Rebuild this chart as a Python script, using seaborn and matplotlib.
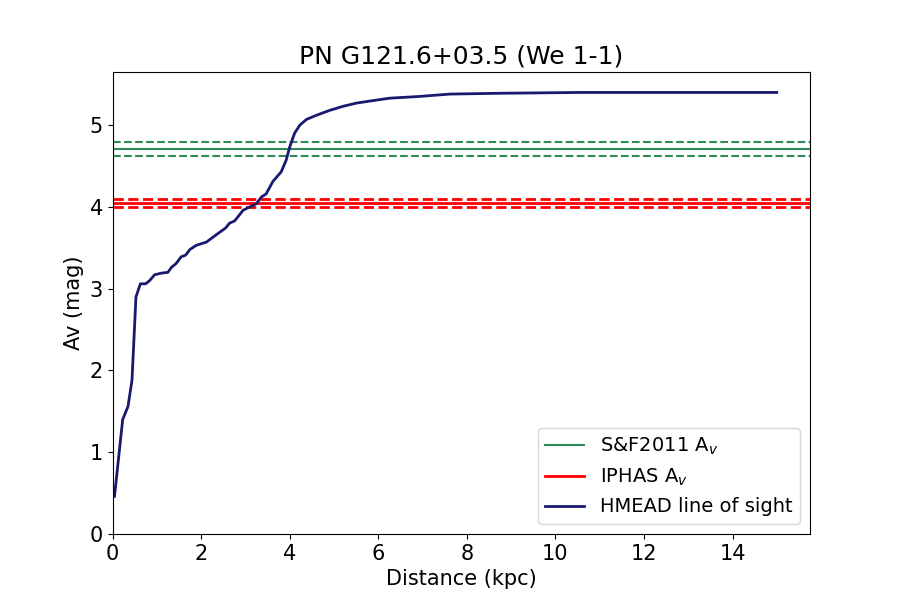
import matplotlib
matplotlib.use("Agg")
import matplotlib.pyplot as plt
import seaborn as sns
import pandas as pd

# HMEAD line-of-sight extinction curve
distance_kpc = [0.045, 0.23, 0.35, 0.44, 0.53, 0.63, 0.75, 0.84, 0.95, 1.10, 1.25, 1.33,
                1.44, 1.55, 1.65, 1.75, 1.89, 2.12, 2.27, 2.42, 2.55, 2.64, 2.76, 2.95,
                3.10, 3.25, 3.36, 3.47, 3.62, 3.81, 3.92, 4.00, 4.11, 4.23, 4.38, 4.60,
                4.90, 5.20, 5.51, 5.88, 6.26, 6.90, 7.62, 8.75, 10.6, 12.5, 15.0]
av_mag = [0.46, 1.40, 1.56, 1.88, 2.90, 3.06, 3.06, 3.10, 3.17, 3.19, 3.20, 3.26,
          3.31, 3.39, 3.41, 3.48, 3.53, 3.57, 3.63, 3.69, 3.74, 3.80, 3.83, 3.96,
          4.00, 4.04, 4.12, 4.16, 4.31, 4.43, 4.57, 4.73, 4.90, 5.00, 5.07, 5.12,
          5.18, 5.23, 5.27, 5.30, 5.33, 5.35, 5.38, 5.39, 5.40, 5.40, 5.40]

# Reference extinction values (value, lower, upper)
sf2011_av = [4.71, 4.62, 4.80]
iphas_av = [4.05, 4.00, 4.10]

title = "PN G121.6+03.5 (We 1-1)"

df = pd.DataFrame({"Distance": distance_kpc, "Av": av_mag})

fig, ax = plt.subplots(figsize=(9, 6), dpi=100)

ax.axhline(sf2011_av[0], color="seagreen", lw=1.5, label="S&F2011 A$_v$")
ax.axhline(sf2011_av[1], color="seagreen", lw=1.5, ls="--")
ax.axhline(sf2011_av[2], color="seagreen", lw=1.5, ls="--")
ax.axhline(iphas_av[0], color="red", lw=2, label="IPHAS A$_v$")
ax.axhline(iphas_av[1], color="red", lw=2, ls="--")
ax.axhline(iphas_av[2], color="red", lw=2, ls="--")

sns.lineplot(data=df, x="Distance", y="Av", ax=ax, color="midnightblue", lw=2,
             label="HMEAD line of sight")

ax.set_xlim(0, 15.75)
ax.set_ylim(0, 5.65)
ax.set_title(title, fontsize=18)
ax.set_xlabel("Distance (kpc)", fontsize=15)
ax.set_ylabel("Av (mag)", fontsize=15)
ax.tick_params(labelsize=15)
ax.legend(loc="lower right", fontsize=14)

fig.savefig("out.png", dpi=100)
